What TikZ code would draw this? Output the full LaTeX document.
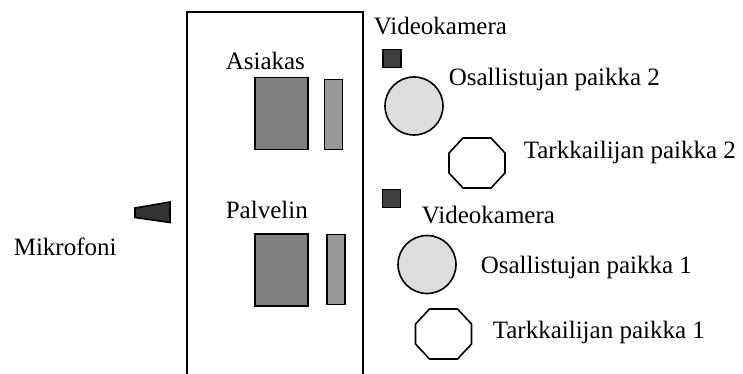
\documentclass[tikz,border=0pt]{standalone}
\usepackage{fontspec}
\setmainfont{Liberation Serif}

\definecolor{pcgray}{HTML}{808080}
\definecolor{screengray}{HTML}{999999}
\definecolor{camgray}{HTML}{404040}
\definecolor{micgray}{HTML}{333333}
\definecolor{seatgray}{HTML}{DDDDDD}

\tikzset{
  lbl/.style={anchor=base west, inner sep=0pt, font=\fontsize{25}{30}\selectfont},
  pc/.style={draw, fill=pcgray, inner sep=0pt, minimum width=53.5pt, minimum height=72pt},
  screen/.style={draw, fill=screengray, inner sep=0pt, minimum width=18pt, minimum height=70pt},
  cam/.style={draw, fill=camgray, inner sep=0pt, minimum size=18pt},
  seat/.style={draw, fill=seatgray, circle, inner sep=0pt, minimum size=58pt},
  octa/.pic={\draw (-14,-25) -- (14,-25) -- (28,-10) -- (28,10) -- (14,25)
     -- (-14,25) -- (-28,10) -- (-28,-10) -- cycle;}
}

\begin{document}
\begin{tikzpicture}[x=1pt, y=-1pt, line width=1.6pt]
\useasboundingbox (0,0) rectangle (743,374);

% room wall
\draw (187,380) -- (187,12) -- (363,12) -- (363,380);

% computers
\node[lbl] (asiakas) at (225,70) {Asiakas};
\node[pc] (asiakaspc) at (281.5,113.5) {};
\node[screen] (asiakasscr) at (333.5,114.5) {};
\node[lbl] (palvelin) at (225,218) {Palvelin};
\node[pc] (palvelinpc) at (281.5,270) {};
\node[screen] (palvelinscr) at (336,269.5) {};

% microphone
\draw[fill=micgray] (135,208) -- (170,202) -- (170,222.5) -- (135,217.5) -- cycle;
\node[lbl] (mikrofoni) at (13,255) {Mikrofoni};

% cameras and seats
\node[lbl] (kamera2) at (373,35) {Videokamera};
\node[cam] (cam2) at (392,58.5) {};
\node[seat] (osal2) at (414,106) {};
\node[lbl] (osal2txt) at (448,86) {Osallistujan paikka 2};
\pic at (477,163) {octa};
\node[lbl] (tark2txt) at (523,158) {Tarkkailijan paikka 2};

\node[cam] (cam1) at (391.5,198.5) {};
\node[lbl] (kamera1) at (421,223) {Videokamera};
\node[seat] (osal1) at (427,264.5) {};
\node[lbl] (osal1txt) at (480,273) {Osallistujan paikka 1};
\pic at (443.5,334) {octa};
\node[lbl] (tark1txt) at (492,338) {Tarkkailijan paikka 1};
\end{tikzpicture}
\end{document}
